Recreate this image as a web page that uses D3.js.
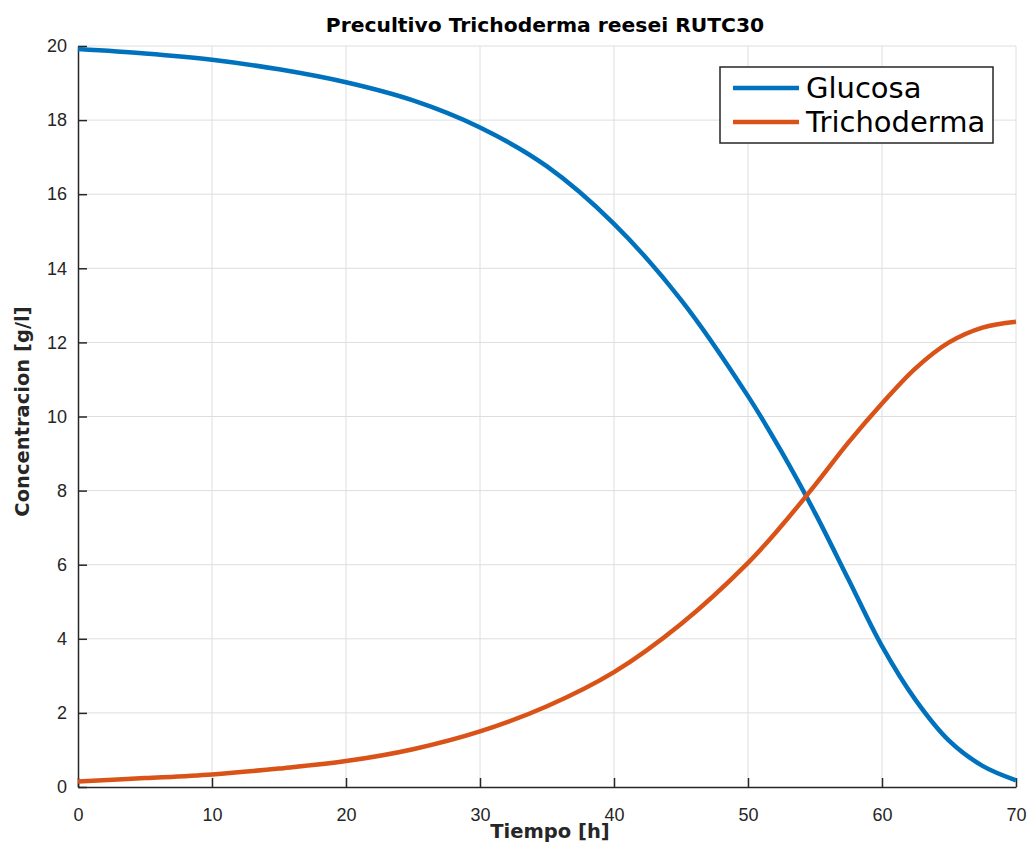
<!DOCTYPE html>
<html>
<head>
<meta charset="utf-8">
<script src="https://cdn.jsdelivr.net/npm/d3@7"></script>
<style>
  body { margin: 0; background: #fff; }
  svg { font-family: "DejaVu Sans", "Liberation Sans", Arial, sans-serif; }
  .grid line { stroke: #dedede; stroke-width: 1; }
  .axis text { fill: #262626; font-size: 18px; }
  .axis path, .axis line { stroke: #262626; }
</style>
</head>
<body>
<div id="chart"></div>
<script>
const tiempo = [0, 5, 10, 15, 20, 25, 30, 35, 40, 45, 50, 52.5, 55, 57.5, 60, 62.5, 65, 67.5, 70]
const glucosa = [19.92, 19.8, 19.63, 19.37, 19.02, 18.53, 17.8, 16.75, 15.2, 13.15, 10.55, 9.05, 7.4, 5.6, 3.8, 2.35, 1.25, 0.57, 0.18]
const trichoderma = [0.15, 0.24, 0.34, 0.5, 0.7, 1.02, 1.5, 2.18, 3.1, 4.4, 6.05, 7.05, 8.15, 9.3, 10.35, 11.3, 12.0, 12.4, 12.56]
const xTicks = [0, 10, 20, 30, 40, 50, 60, 70]
const yTicks = [0, 2, 4, 6, 8, 10, 12, 14, 16, 18, 20]
const seriesNames = ['Glucosa', 'Trichoderma']
const seriesColors = ['#0072BD', '#D95319']

const width = 1030
const height = 846
const margin = { left: 78, top: 46, right: 14, bottom: 59 }
const chartWidth = width - margin.left - margin.right
const chartHeight = height - margin.top - margin.bottom

const svg = d3.select('#chart').append('svg')
    .attr('width', width)
    .attr('height', height)

const g = svg.append('g')
    .attr('transform', `translate(${margin.left}, ${margin.top})`)

const xScale = d3.scaleLinear().domain([0, 70]).range([0, chartWidth])
const yScale = d3.scaleLinear().domain([0, 20]).range([chartHeight, 0])

// grid
g.append('g').classed('grid', true)
  .selectAll('line').data(xTicks.slice(1)).enter()
  .append('line')
    .attr('x1', d => xScale(d)).attr('x2', d => xScale(d))
    .attr('y1', 0).attr('y2', chartHeight)
g.append('g').classed('grid', true)
  .selectAll('line').data(yTicks.slice(1)).enter()
  .append('line')
    .attr('x1', 0).attr('x2', chartWidth)
    .attr('y1', d => yScale(d)).attr('y2', d => yScale(d))

// axes, ticks inward like matlab
const xAxis = d3.axisBottom(xScale).tickValues(xTicks).tickSizeInner(-9).tickSizeOuter(0).tickPadding(21)
const yAxis = d3.axisLeft(yScale).tickValues(yTicks).tickSizeInner(-9).tickSizeOuter(0).tickPadding(20)

g.append('g').classed('axis', true)
    .attr('transform', `translate(0, ${chartHeight})`)
    .call(xAxis)
    .call(a => a.select('.domain').attr('stroke-width', 1.5))
    .call(a => a.selectAll('line').attr('stroke-width', 1.5))

g.append('g').classed('axis', true)
    .call(yAxis)
    .call(a => a.select('.domain').attr('stroke-width', 1.5))
    .call(a => a.selectAll('line').attr('stroke-width', 1.5))
    .call(a => a.selectAll('text').attr('dx', 9))

// lines
const line = d3.line()
    .x(d => xScale(d[0]))
    .y(d => yScale(d[1]))
    .curve(d3.curveCatmullRom.alpha(0.5))

const series = [glucosa, trichoderma]
series.forEach((vals, i) => {
  g.append('path')
      .datum(tiempo.map((t, j) => [t, vals[j]]))
      .attr('fill', 'none')
      .attr('stroke', seriesColors[i])
      .attr('stroke-width', 4.5)
      .attr('d', line)
})

// title + labels
svg.append('text')
    .attr('x', margin.left + chartWidth / 2 - 2)
    .attr('y', 32)
    .attr('text-anchor', 'middle')
    .attr('font-weight', 'bold')
    .attr('font-size', 20.3)
    .attr('fill', '#000')
    .text('Precultivo Trichoderma reesei RUTC30')

svg.append('text')
    .attr('x', margin.left + chartWidth / 2 + 3)
    .attr('y', 838)
    .attr('text-anchor', 'middle')
    .attr('font-weight', 'bold')
    .attr('font-size', 19.5)
    .attr('fill', '#262626')
    .text('Tiempo [h]')

svg.append('text')
    .attr('transform', `translate(29, ${margin.top + chartHeight / 2 - 5}) rotate(-90)`)
    .attr('text-anchor', 'middle')
    .attr('font-weight', 'bold')
    .attr('font-size', 19.5)
    .attr('fill', '#262626')
    .text('Concentracion [g/l]')

// legend
const legend = svg.append('g').attr('transform', 'translate(720, 67)')
legend.append('rect')
    .attr('width', 273).attr('height', 76)
    .attr('fill', '#fff').attr('stroke', '#262626').attr('stroke-width', 1.5)
seriesNames.forEach((name, i) => {
  const y = 21 + i * 34
  legend.append('line')
      .attr('x1', 13).attr('x2', 79).attr('y1', y).attr('y2', y)
      .attr('stroke', seriesColors[i]).attr('stroke-width', 4.5)
  legend.append('text')
      .attr('x', 86).attr('y', y + 10)
      .attr('font-size', 29)
      .attr('fill', '#000')
      .text(name)
})
</script>
</body>
</html>
